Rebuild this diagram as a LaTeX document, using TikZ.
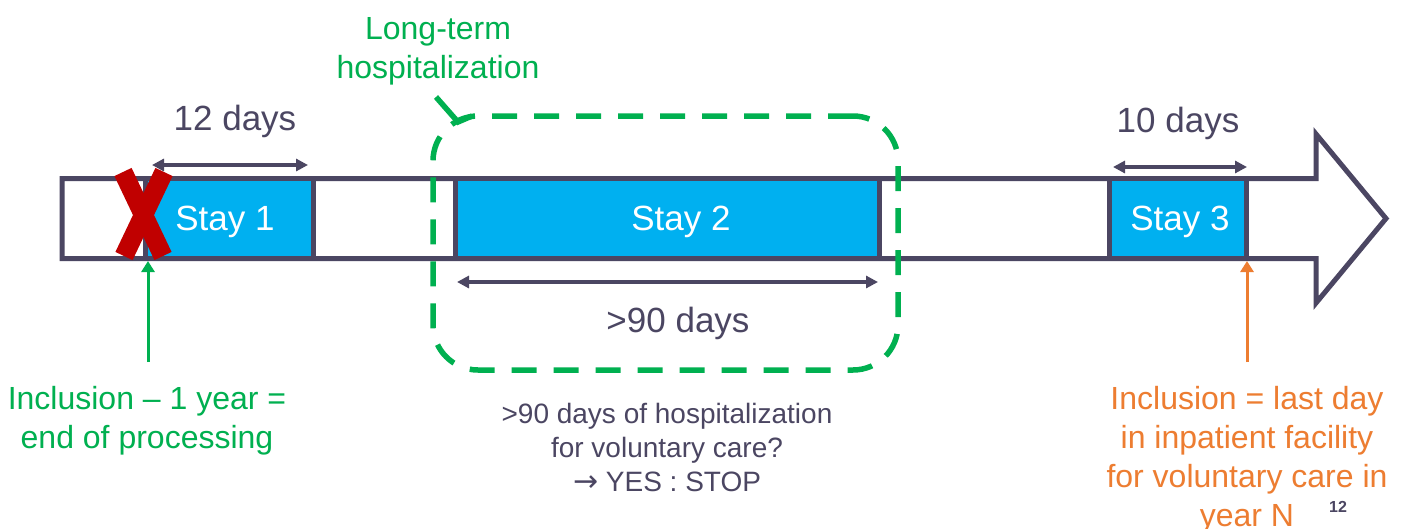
\documentclass[tikz,border=0pt]{standalone}
\usepackage{fontspec}
\setmainfont{Liberation Sans}
\newfontfamily\symfont{DejaVu Sans}
\usetikzlibrary{arrows.meta}
\definecolor{dk}{HTML}{4B4662}
\definecolor{bl}{HTML}{00B0F0}
\definecolor{gr}{HTML}{00B050}
\definecolor{og}{HTML}{ED7D31}
\definecolor{xr}{HTML}{C00000}
\begin{document}
\begin{tikzpicture}[x=1pt,y=-1pt,
  stay/.style={draw=dk, line width=5pt, fill=bl, minimum height=80pt, inner sep=0pt},
  staytext/.style={text=white, font=\fontsize{35}{42}\selectfont, inner sep=0pt},
  dim/.style={draw=dk, line width=3.5pt, {Triangle[length=12pt,width=12pt]}-{Triangle[length=12pt,width=12pt]}},
  dimtext/.style={text=dk, font=\fontsize{35}{42}\selectfont, inner sep=0pt},
  uparrow/.style={line width=3pt, -{Triangle[length=11pt,width=13pt]}},
  gtext/.style={text=gr, align=center, font=\fontsize{32}{39}\selectfont, inner sep=0pt},
  otext/.style={text=og, align=center, font=\fontsize{32}{39}\selectfont, inner sep=0pt},
  btext/.style={text=dk, align=center, font=\fontsize{28}{34}\selectfont, inner sep=0pt},
  gbox/.style={draw=gr, line width=5.5pt, dash pattern=on 25pt off 17pt, rounded corners=45pt, minimum width=465pt, minimum height=254pt, inner sep=0pt}
]
\useasboundingbox (0,0) rectangle (1405,528);
\fill[white] (0,0) rectangle (1405,528);

% big outline arrow (timeline)
\draw[dk, line width=5pt, line join=miter, fill=white]
  (62,178.5) -- (1316,178.5) -- (1316,134) -- (1386,218.5) -- (1316,303) -- (1316,258.5) -- (62,258.5) -- cycle;

% stays
\node[stay, minimum width=168pt] (s1) at (229,218.5) {};
\node[stay, minimum width=424pt] (s2) at (667.5,218.5) {};
\node[stay, minimum width=137.5pt] (s3) at (1178.2,218.5) {};
\node[staytext] (t1) at (225,221.5) {Stay 1};
\node[staytext] (t2) at (681,221.5) {Stay 2};
\node[staytext] (t3) at (1180,221.5) {Stay 3};

% red cross
\draw[xr, line width=19pt] (123,172) -- (163,256);
\draw[xr, line width=19pt] (164,172) -- (124,256);

% dimension arrows
\coordinate (d1a) at (152,165); \coordinate (d1b) at (308,165);
\coordinate (d2a) at (457,282); \coordinate (d2b) at (878,282);
\coordinate (d3a) at (1113,167); \coordinate (d3b) at (1247,167);
\draw[dim] (d1a) -- (d1b);
\draw[dim] (d2a) -- (d2b);
\draw[dim] (d3a) -- (d3b);
\node[dimtext] (l1) at (235,121) {12 days};
\node[dimtext] (l2) at (678,323) {>90 days};
\node[dimtext] (l3) at (1178,123) {10 days};

% long-term hospitalization callout
\node[gbox] (lt) at (665.5,243) {};
\draw[gr, line width=5.5pt] (436,97) -- (458,122) -- (472,116);
\node[gtext, align=center] (ltl) at (438,51) {Long-term\\hospitalization};

% inclusion arrows
\coordinate (ga) at (148,362);
\coordinate (oa) at (1247,362);
\coordinate (gt) at (148,261);
\coordinate (ot) at (1247,261);
\draw[uparrow, gr] (ga) -- (gt);
\draw[uparrow, og] (oa) -- (ot);

\node[gtext] (gl) at (147,421) {Inclusion -- 1 year =\\end of processing};
\node[otext] (ol) at (1247,460) {Inclusion = last day\\in inpatient facility\\for voluntary care in\\year N};
\node[btext] (bl) at (667,447) {>90 days of hospitalization\\for voluntary care?\\{\symfont\fontsize{30}{34}\selectfont →} YES : STOP};

\node[text=dk, font=\bfseries\fontsize{16}{19}\selectfont, inner sep=0pt] (pg) at (1338,507) {12};
\end{tikzpicture}
\end{document}
